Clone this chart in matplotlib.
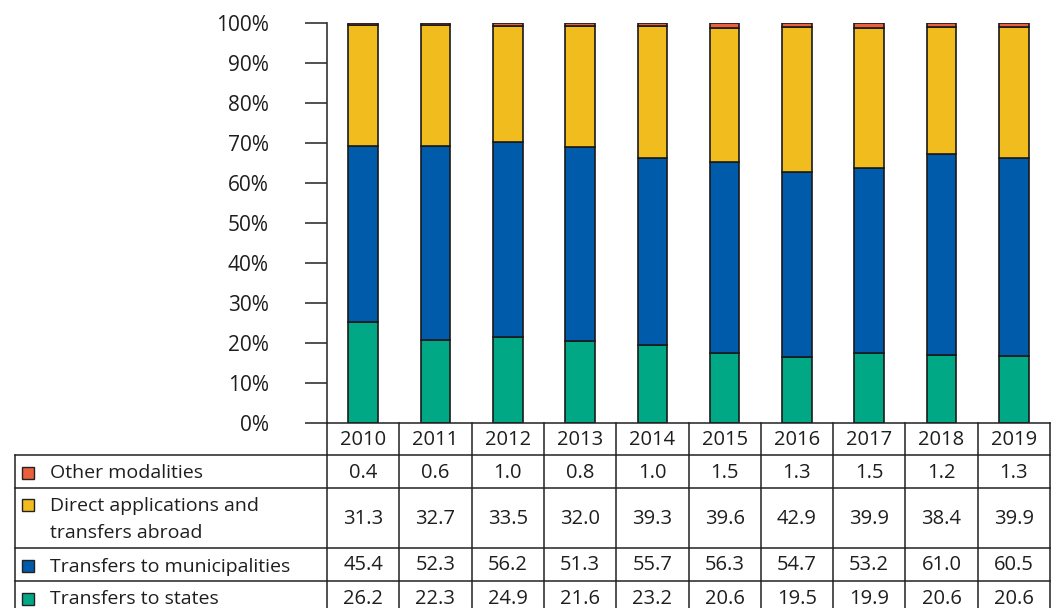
import matplotlib
matplotlib.use("Agg")
import matplotlib.pyplot as plt
import numpy as np

plt.rcParams['font.family'] = ['Open Sans', 'DejaVu Sans']

years = ['2010', '2011', '2012', '2013', '2014', '2015', '2016', '2017', '2018', '2019']
series_names = ['Other modalities',
                'Direct applications and\ntransfers abroad',
                'Transfers to municipalities',
                'Transfers to states']
other = [0.4, 0.6, 1.0, 0.8, 1.0, 1.5, 1.3, 1.5, 1.2, 1.3]
direct = [31.3, 32.7, 33.5, 32.0, 39.3, 39.6, 42.9, 39.9, 38.4, 39.9]
municipalities = [45.4, 52.3, 56.2, 51.3, 55.7, 56.3, 54.7, 53.2, 61.0, 60.5]
states = [26.2, 22.3, 24.9, 21.6, 23.2, 20.6, 19.5, 19.9, 20.6, 20.6]
colors = ['#E8603C', '#F0BC1E', '#005BAA', '#00A886']

table_rows = [other, direct, municipalities, states]

W, H = 1056, 608
fig = plt.figure(figsize=(W / 100, H / 100), dpi=100)
txt = '#1e1e1e'

# pixel layout
ax_left, ax_right = 327, 1050
ax_top, ax_bottom = 23, 423
ax = fig.add_axes([ax_left / W, 1 - ax_bottom / H, (ax_right - ax_left) / W, (ax_bottom - ax_top) / H])

# 100% stacked bars (bottom to top: states, municipalities, direct, other)
total = np.array(other) + np.array(direct) + np.array(municipalities) + np.array(states)
stack = [(states, colors[3]), (municipalities, colors[2]), (direct, colors[1]), (other, colors[0])]
x = np.arange(len(years))
bottom = np.zeros(len(years))
for vals, c in stack:
    share = np.array(vals) / total * 100
    ax.bar(x, share, 0.41, bottom=bottom, color=c, edgecolor='#1a1a1a', linewidth=1.2)
    bottom += share

ax.set_xlim(-0.5, len(years) - 0.5)
ax.set_ylim(0, 100)
ax.set_yticks(range(0, 101, 10))
ax.set_yticklabels([f'{v}%' for v in range(0, 101, 10)], fontsize=15, color=txt)
ax.tick_params(axis='y', length=16, width=1.2, color='#333333', pad=26)
ax.set_xticks([])
for s in ['top', 'right', 'bottom']:
    ax.spines[s].set_visible(False)
ax.spines['left'].set_linewidth(1.2)
ax.spines['left'].set_color('#333333')

# data table drawn in pixel coordinates
tab = fig.add_axes([0, 0, 1, 1])
tab.set_xlim(0, W)
tab.set_ylim(H, 0)
tab.axis('off')

col_w = (ax_right - ax_left) / len(years)
col_x = [ax_left + i * col_w for i in range(len(years) + 1)]
lab_left = 15
row_edges = [423, 455, 488, 548, 581, 614]
lw = 1.1
lc = '#222222'
fs_num = 14.5
fs_lab = 14

# header row
tab.plot([ax_left, ax_right], [row_edges[0], row_edges[0]], color=lc, lw=lw)
for i, yr in enumerate(years):
    tab.text(col_x[i] + col_w / 2, (row_edges[0] + row_edges[1]) / 2 + 1, yr,
             ha='center', va='center', fontsize=fs_num, color=txt)

# horizontal lines
for y in row_edges[1:5]:
    tab.plot([lab_left, ax_right], [y, y], color=lc, lw=lw)
# vertical lines
tab.plot([lab_left, lab_left], [row_edges[1], H], color=lc, lw=lw)
tab.plot([ax_left, ax_left], [row_edges[0], H], color=lc, lw=lw)
for xx in col_x[1:]:
    tab.plot([xx, xx], [row_edges[0], H], color=lc, lw=lw)

for r, (name, vals, c) in enumerate(zip(series_names, table_rows, colors)):
    y0, y1 = row_edges[r + 1], row_edges[r + 2]
    lines = name.split('\n')
    if len(lines) > 1:
        first_y = y0 + 17
    else:
        first_y = (y0 + y1) / 2 + 1
    tab.add_patch(plt.Rectangle((22, first_y - 6), 12, 12, facecolor=c,
                                edgecolor='#222222', lw=1.0))
    for k, line in enumerate(lines):
        tab.text(50, first_y + 1 + k * 27, line, ha='left', va='center',
                 fontsize=fs_lab, color=txt)
    for i, v in enumerate(vals):
        tab.text(col_x[i] + col_w / 2, (y0 + y1) / 2 + 1, f'{v:.1f}',
                 ha='center', va='center', fontsize=fs_num, color=txt)

fig.savefig('out.png', dpi=100)
